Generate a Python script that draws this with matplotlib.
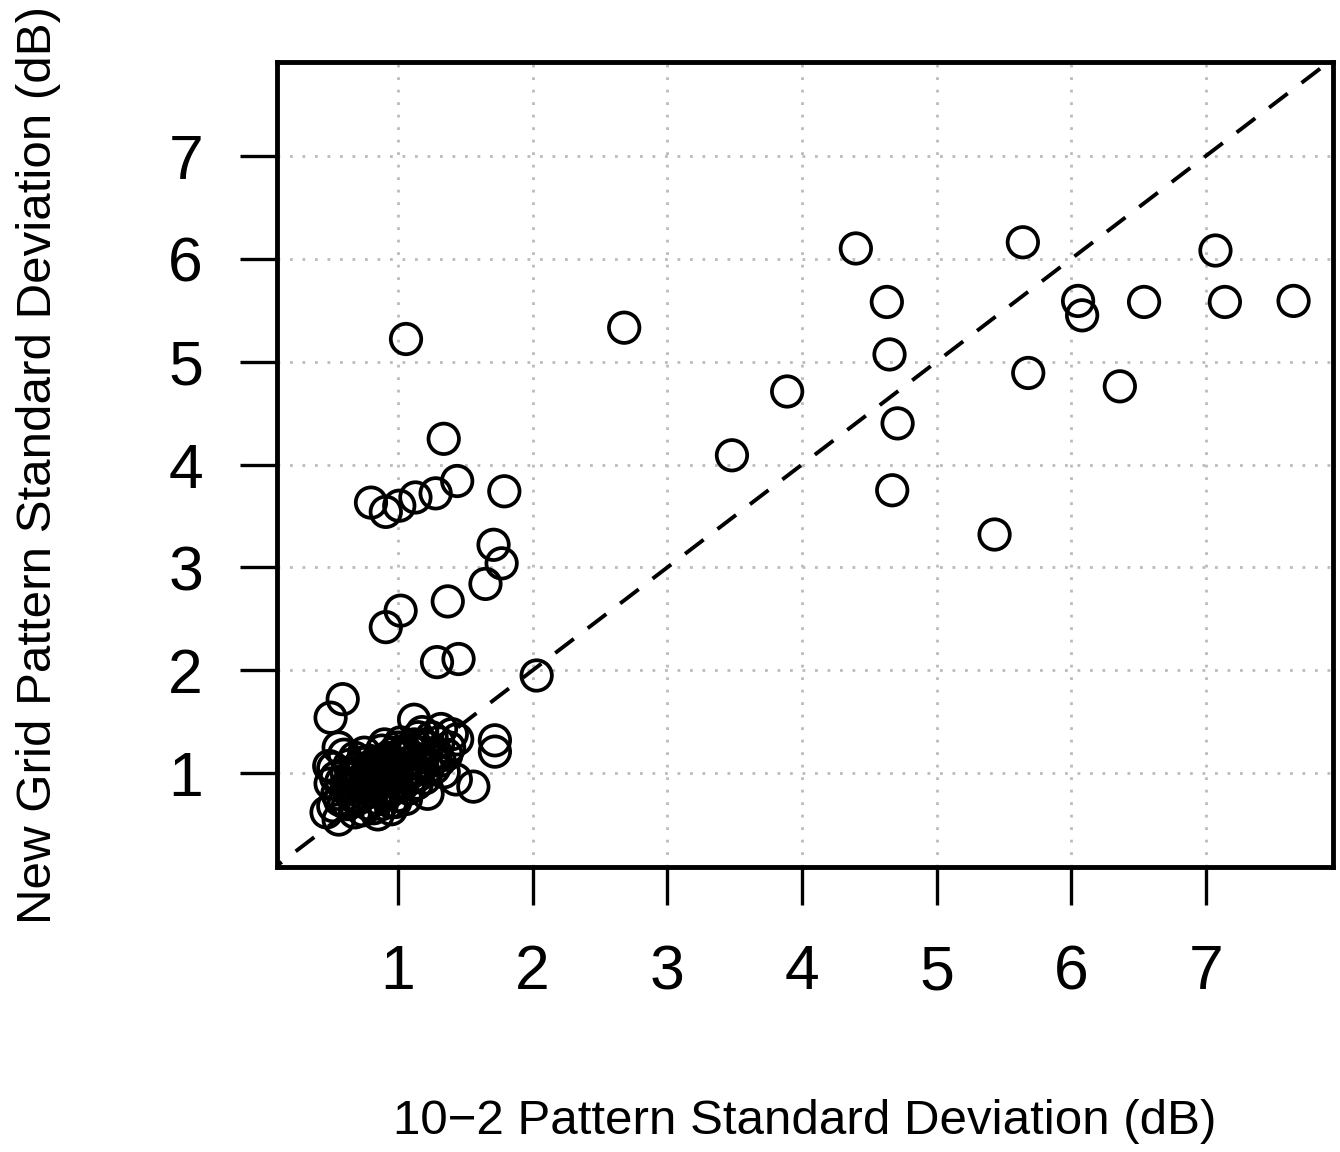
import matplotlib
matplotlib.use("Agg")
import matplotlib.pyplot as plt

plt.rcParams["font.family"] = ["Liberation Sans", "DejaVu Sans"]

# scattered points (10-2 PSD, new grid PSD)
psd_102 = [1.06, 1.34, 0.80, 0.91, 1.01, 1.13, 1.28, 1.44, 1.79, 1.71, 1.77, 1.65,
           1.37, 1.02, 0.91, 1.29, 1.45, 2.03, 0.59, 0.50, 1.72, 1.72, 1.56, 1.12,
           2.68, 3.48, 3.89, 4.40, 4.63, 4.65, 4.71, 4.67, 5.43, 5.64, 5.68, 6.05,
           6.08, 6.54, 6.36, 7.07, 7.14, 7.65]
psd_new = [5.22, 4.25, 3.63, 3.54, 3.60, 3.68, 3.72, 3.84, 3.74, 3.22, 3.04, 2.84,
           2.67, 2.58, 2.42, 2.08, 2.11, 1.95, 1.72, 1.54, 1.32, 1.21, 0.87, 1.52,
           5.33, 4.09, 4.71, 6.10, 5.58, 5.07, 4.40, 3.75, 3.32, 6.16, 4.89, 5.59,
           5.45, 5.58, 4.76, 6.08, 5.58, 5.59]

# dense cluster near (1, 1)
cluster_x = [0.47, 0.56, 0.52, 0.60, 0.55, 0.50, 0.52, 0.49, 0.56, 0.60, 0.62, 0.65,
             0.63, 0.68, 0.70, 0.72, 0.70, 0.68, 0.75, 0.78, 0.76, 0.80, 0.78, 0.74,
             0.82, 0.85, 0.84, 0.86, 0.83, 0.88, 0.90, 0.92, 0.93, 0.90, 0.92, 0.88,
             0.95, 0.97, 0.98, 1.00, 0.97, 1.02, 1.00, 1.04, 1.05, 1.03, 1.00, 1.06,
             1.08, 1.10, 1.12, 1.08, 1.12, 1.15, 1.16, 1.18, 1.15, 1.14, 1.20, 1.22,
             1.25, 1.22, 1.25, 1.30, 1.28, 1.31, 1.34, 1.43, 1.22, 1.32, 1.44, 1.38,
             1.40, 0.95, 0.85, 0.80, 0.75, 0.65, 0.58, 0.96, 0.88, 1.05, 1.18,
             0.66, 0.71, 0.74, 0.79, 0.81, 0.86, 0.89, 0.94, 0.99, 1.01, 1.07, 1.10,
             0.73, 0.77, 0.82, 0.87, 0.91, 0.96, 1.03, 1.09, 1.13, 0.62, 0.69, 0.57,
             1.19, 1.27, 1.36, 0.54, 0.64, 0.98]
cluster_y = [0.62, 0.55, 0.68, 0.72, 0.80, 0.90, 1.05, 1.07, 1.25, 1.18, 1.00, 0.85,
             0.70, 0.62, 0.75, 0.90, 1.05, 1.15, 1.20, 1.05, 0.95, 0.82, 0.70, 0.64,
             0.66, 0.75, 0.88, 1.00, 1.10, 1.22, 1.28, 1.15, 1.05, 0.92, 0.80, 0.70,
             0.72, 0.85, 0.95, 1.08, 1.20, 1.30, 1.25, 1.15, 1.00, 0.88, 0.78, 0.75,
             0.85, 0.95, 1.05, 1.18, 1.28, 1.35, 1.20, 1.10, 0.98, 0.90, 0.95, 1.05,
             1.15, 1.25, 1.35, 1.30, 1.20, 1.12, 1.01, 0.94, 0.80, 1.43, 1.33, 1.25,
             1.38, 0.65, 0.60, 0.95, 0.80, 0.95, 0.92, 1.10, 1.05, 1.22, 1.40,
             0.78, 0.98, 0.87, 1.12, 0.90, 1.08, 0.82, 0.98, 0.90, 1.17, 1.10, 1.22,
             1.10, 0.92, 1.02, 0.95, 1.10, 1.00, 1.05, 1.00, 1.14, 0.88, 1.00, 0.74,
             1.28, 1.05, 1.18, 0.96, 1.08, 0.72]

ticks = [1, 2, 3, 4, 5, 6, 7]

fig = plt.figure(figsize=(13.4, 11.52), dpi=100)
ax = fig.add_axes([0.2065, 0.2475, 0.788, 0.6985])

ax.plot([0, 8], [0, 8], color="black", linestyle=(0, (6, 4.5)), linewidth=2.8, zorder=2)
ax.scatter(cluster_x + psd_102, cluster_y + psd_new, s=480, facecolors="none",
           edgecolors="black", linewidths=2.7, zorder=3)

ax.set_xlim(0.1, 7.94)
ax.set_ylim(0.09, 7.91)
ax.set_xticks(ticks)
ax.set_yticks(ticks)
ax.grid(True, color="#bbbbbb", linestyle=(0, (1, 3.5)), linewidth=2.0)
ax.set_axisbelow(True)

for sp in ax.spines.values():
    sp.set_linewidth(3.5)
ax.tick_params(direction="out", length=27, width=2.4, labelsize=45)
ax.tick_params(axis="x", pad=28)
ax.tick_params(axis="y", pad=26)

ax.set_xlabel("10\u22122 Pattern Standard Deviation (dB)", fontsize=35.5, labelpad=70)
ax.set_ylabel("New Grid Pattern Standard Deviation (dB)", fontsize=35.5, labelpad=77)

fig.savefig("out.png", dpi=100, facecolor="white")
